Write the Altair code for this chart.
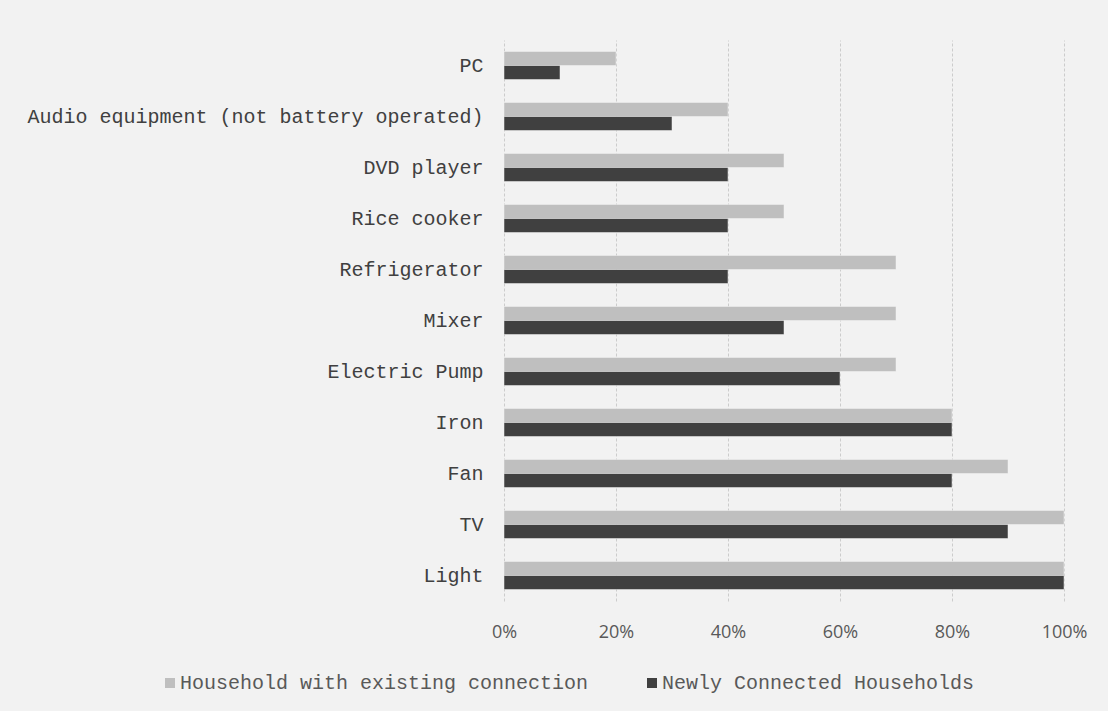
import altair as alt
import pandas as pd

categories = ["PC", "Audio equipment (not battery operated)", "DVD player", "Rice cooker",
              "Refrigerator", "Mixer", "Electric Pump", "Iron", "Fan", "TV", "Light"]
existing = [20, 40, 50, 50, 70, 70, 70, 80, 90, 100, 100]
newly = [10, 30, 40, 40, 40, 50, 60, 80, 80, 90, 100]
series_names = ["Household with existing connection", "Newly Connected Households"]
colors = ["#bfbfbf", "#404040"]

rows = []
for c, e, n in zip(categories, existing, newly):
    rows.append({"item": c, "series": series_names[0], "value": e / 100})
    rows.append({"item": c, "series": series_names[1], "value": n / 100})
df = pd.DataFrame(rows)

mono = "Liberation Mono"

chart = alt.Chart(df).mark_bar(stroke="#f2f2f2", strokeWidth=0.5).encode(
    x=alt.X("value:Q",
            scale=alt.Scale(domain=[0, 1], nice=False),
            axis=alt.Axis(format="%", values=[0, 0.2, 0.4, 0.6, 0.8, 1.0], title=None,
                          domain=False, ticks=False, grid=True, gridColor="#cccccc",
                          gridDash=[3, 2], gridWidth=1, labelFont="Open Sans",
                          labelFontSize=18, labelColor="#595959", labelPadding=22,
                          labelFlush=False)),
    y=alt.Y("item:N", sort=categories,
            scale=alt.Scale(paddingInner=0.45, paddingOuter=0.225),
            axis=alt.Axis(title=None, domain=False, ticks=False, grid=False,
                          labelFont=mono, labelFontSize=20, labelColor="#404040",
                          labelPadding=21, labelLimit=600)),
    yOffset=alt.YOffset("series:N", sort=series_names),
    color=alt.Color("series:N", sort=series_names,
                    scale=alt.Scale(domain=series_names, range=colors),
                    legend=alt.Legend(title=None, orient="none", direction="horizontal",
                                      legendX=-344, legendY=633, symbolType="square",
                                      symbolSize=100, symbolStrokeWidth=0,
                                      labelFont=mono, labelFontSize=20,
                                      labelColor="#595959", labelOffset=0,
                                      columnPadding=53, padding=0, labelLimit=600)),
).properties(
    width=560, height=561,
    background="#f2f2f2",
    padding={"left": 504, "top": 40, "right": 44, "bottom": 110},
    autosize=alt.AutoSizeParams(type="none"),
).configure_view(stroke=None)

chart.save("out.html", embed_options={"renderer": "svg", "actions": False})
